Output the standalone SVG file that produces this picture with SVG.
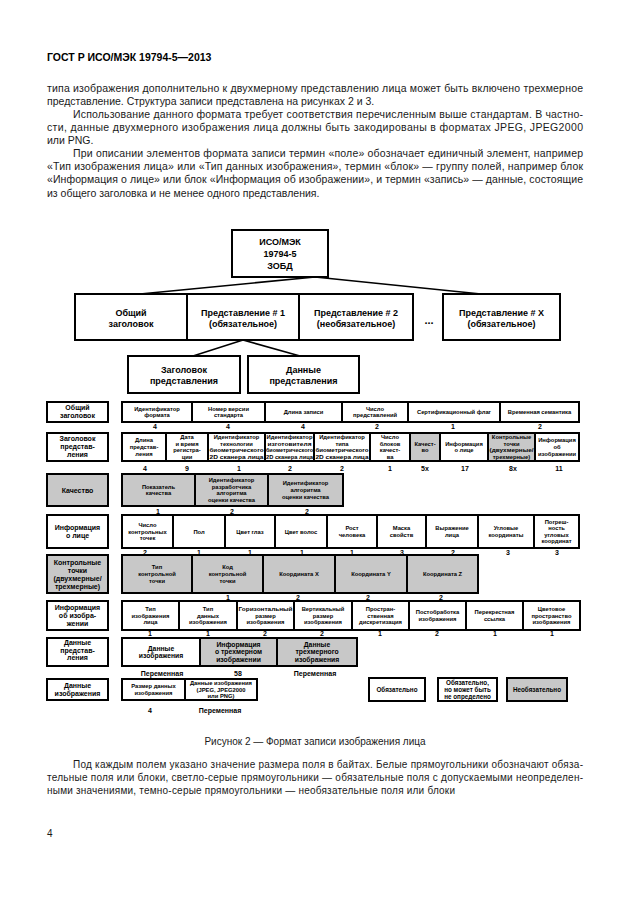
<svg xmlns="http://www.w3.org/2000/svg" width="630" height="913" viewBox="0 0 630 913">
<style>
.bg{fill:#fff}
.bx{fill:#fff;stroke:#000;stroke-width:2}
.gr{fill:#c8c8c8;stroke:#000;stroke-width:2}
.ln{stroke:#000;stroke-width:1.6;fill:none}
text{font-family:"Liberation Sans",Arial,sans-serif;fill:#000}
.body{font-size:10.5px;fill:#1a1a1a}
.hd{font-size:10.5px;font-weight:bold}
.note{font-size:10px;fill:#1a1a1a}
.tt{font-size:9px;font-weight:bold;text-anchor:middle}
.lb{font-size:7px;font-weight:bold;text-anchor:middle}
.f{font-size:5.8px;font-weight:bold;text-anchor:middle}
.f7{font-size:6.8px;font-weight:bold;text-anchor:middle}
.lg{font-size:6.3px;font-weight:bold;text-anchor:middle}
.n{font-size:7px;font-weight:bold;text-anchor:middle}
.dots{font-size:11px;font-weight:bold;text-anchor:middle}
</style>
<rect class="bg" x="0" y="0" width="630" height="913"/>

<text class="hd" x="47" y="61">ГОСТ Р ИСО/МЭК 19794-5—2013</text>

<g id="intro">
<text class="body" x="47" y="91.5" textLength="536" lengthAdjust="spacing">типа изображения дополнительно к двухмерному представлению лица может быть включено трехмерное</text>
<text class="body" x="47" y="104.5">представление. Структура записи представлена на рисунках 2 и 3.</text>
<text class="body" x="73" y="117.5" textLength="510" lengthAdjust="spacing">Использование данного формата требует соответствия перечисленным выше стандартам. В частно-</text>
<text class="body" x="47" y="130.5" textLength="536" lengthAdjust="spacing">сти, данные двухмерного изображения лица должны быть закодированы в форматах JPEG, JPEG2000</text>
<text class="body" x="47" y="143.5">или PNG.</text>
<text class="body" x="73" y="157" textLength="510" lengthAdjust="spacing">При описании элементов формата записи термин «поле» обозначает единичный элемент, например</text>
<text class="body" x="47" y="170" textLength="536" lengthAdjust="spacing">«Тип изображения лица» или «Тип данных изображения», термин «блок» — группу полей, например блок</text>
<text class="body" x="47" y="183" textLength="536" lengthAdjust="spacing">«Информация о лице» или блок «Информация об изображении», и термин «запись» — данные, состоящие</text>
<text class="body" x="47" y="196.5">из общего заголовка и не менее одного представления.</text>
</g>

<g id="connectors">
<line class="ln" x1="140" y1="294" x2="315" y2="277"/>
<line class="ln" x1="315" y1="277" x2="481" y2="294"/>
<line class="ln" x1="243" y1="340" x2="193" y2="356"/>
<line class="ln" x1="243" y1="340" x2="300" y2="356"/>
</g>

<g id="root">
<rect class="bx" x="232" y="230" width="96" height="47"/>
<text class="tt"><tspan x="280" y="244.5">ИСО/МЭК</tspan><tspan x="280" y="256.5">19794-5</tspan><tspan x="280" y="268.5">ЗОБД</tspan></text>
</g>
<g id="general-header">
<rect class="bx" x="75" y="294" width="112" height="46"/>
<text class="tt"><tspan x="131" y="315.5">Общий</tspan><tspan x="131" y="327">заголовок</tspan></text>
</g>
<g id="repr1">
<rect class="bx" x="187" y="294" width="112" height="46"/>
<text class="tt"><tspan x="243" y="315.5">Представление # 1</tspan><tspan x="243" y="327">(обязательное)</tspan></text>
</g>
<g id="repr2">
<rect class="bx" x="299" y="294" width="114" height="46"/>
<text class="tt"><tspan x="356" y="315.5">Представление # 2</tspan><tspan x="356" y="327">(необязательное)</tspan></text>
</g>
<text class="dots" x="429" y="324">...</text>
<g id="reprX">
<rect class="bx" x="443" y="294" width="117" height="46"/>
<text class="tt"><tspan x="501.5" y="315.5">Представление # X</tspan><tspan x="501.5" y="327">(обязательное)</tspan></text>
</g>
<g id="repr-header">
<rect class="bx" x="128" y="356" width="112" height="37"/>
<text class="tt"><tspan x="184" y="372.5">Заголовок</tspan><tspan x="184" y="383.5">представления</tspan></text>
</g>
<g id="repr-data">
<rect class="bx" x="248" y="356" width="111" height="37"/>
<text class="tt"><tspan x="303.5" y="372.5">Данные</tspan><tspan x="303.5" y="383.5">представления</tspan></text>
</g>

<!-- Row 1: general header -->
<g id="row-general-header">
<rect class="bx" x="47" y="402" width="61" height="20"/>
<text class="lb"><tspan x="77.5" y="410.45">Общий</tspan><tspan x="77.5" y="418.45">заголовок</tspan></text>
<rect class="bx" x="122" y="402" width="70" height="20"/>
<text class="f"><tspan x="157" y="410.7">Идентификатор</tspan><tspan x="157" y="417.3">формата</tspan></text>
<rect class="bx" x="192" y="402" width="73" height="20"/>
<text class="f"><tspan x="228.5" y="410.7">Номер версии</tspan><tspan x="228.5" y="417.3">стандарта</tspan></text>
<rect class="bx" x="265" y="402" width="77" height="20"/>
<text class="f" x="303.5" y="414">Длина записи</text>
<rect class="bx" x="342" y="402" width="66" height="20"/>
<text class="f"><tspan x="375" y="410.7">Число</tspan><tspan x="375" y="417.3">представлений</tspan></text>
<rect class="bx" x="408" y="402" width="92" height="20"/>
<text class="f" x="454" y="414">Сертификационный флаг</text>
<rect class="bx" x="500" y="402" width="79" height="20"/>
<text class="f" x="539.5" y="414">Временная семантика</text>
<text class="n" x="155" y="428.5">4</text><text class="n" x="228" y="428.5">4</text><text class="n" x="303" y="428.5">4</text>
<text class="n" x="377" y="428.5">2</text><text class="n" x="453" y="428.5">1</text><text class="n" x="540" y="428.5">2</text>
</g>

<!-- Row 2: representation header -->
<g id="row-repr-header">
<rect class="bx" x="47" y="433" width="61" height="28"/>
<text class="lb"><tspan x="77.5" y="441.45">Заголовок</tspan><tspan x="77.5" y="449.45">представ-</tspan><tspan x="77.5" y="457.45">ления</tspan></text>
<rect class="bx" x="122" y="433" width="44" height="28"/>
<text class="f"><tspan x="144" y="442.4">Длина</tspan><tspan x="144" y="449">представ-</tspan><tspan x="144" y="455.6">ления</tspan></text>
<rect class="bx" x="166" y="433" width="42" height="28"/>
<text class="f"><tspan x="187" y="439.1">Дата</tspan><tspan x="187" y="445.7">и время</tspan><tspan x="187" y="452.3">регистра-</tspan><tspan x="187" y="458.9">ции</tspan></text>
<rect class="bx" x="208" y="433" width="57" height="28"/>
<text class="f"><tspan x="236.5" y="439.1">Идентификатор</tspan><tspan x="236.5" y="445.7">технологии</tspan><tspan x="236.5" y="452.3" textLength="54" lengthAdjust="spacingAndGlyphs">биометрического</tspan><tspan x="236.5" y="458.9" textLength="54" lengthAdjust="spacingAndGlyphs">2D сканера лица</tspan></text>
<rect class="bx" x="265" y="433" width="49" height="28"/>
<text class="f"><tspan x="289.5" y="439.1" textLength="46" lengthAdjust="spacingAndGlyphs">Идентификатор</tspan><tspan x="289.5" y="445.7" textLength="44" lengthAdjust="spacingAndGlyphs">изготовителя</tspan><tspan x="289.5" y="452.3" textLength="47" lengthAdjust="spacingAndGlyphs">биометрического</tspan><tspan x="289.5" y="458.9" textLength="47" lengthAdjust="spacingAndGlyphs">2D сканера лица</tspan></text>
<rect class="bx" x="314" y="433" width="56" height="28"/>
<text class="f"><tspan x="342" y="439.1">Идентификатор</tspan><tspan x="342" y="445.7">типа</tspan><tspan x="342" y="452.3" textLength="53" lengthAdjust="spacingAndGlyphs">биометрического</tspan><tspan x="342" y="458.9" textLength="53" lengthAdjust="spacingAndGlyphs">2D сканера лица</tspan></text>
<rect class="bx" x="370" y="433" width="40" height="28"/>
<text class="f"><tspan x="390" y="439.1">Число</tspan><tspan x="390" y="445.7">блоков</tspan><tspan x="390" y="452.3">качест-</tspan><tspan x="390" y="458.9">ва</tspan></text>
<rect class="gr" x="410" y="433" width="30" height="28"/>
<text class="f"><tspan x="425" y="445.7">Качест-</tspan><tspan x="425" y="452.3">во</tspan></text>
<rect class="bx" x="440" y="433" width="48" height="28"/>
<text class="f"><tspan x="464" y="445.7">Информация</tspan><tspan x="464" y="452.3">о лице</tspan></text>
<rect class="gr" x="488" y="433" width="47" height="28"/>
<text class="f"><tspan x="511.5" y="439.1">Контрольные</tspan><tspan x="511.5" y="445.7">точки</tspan><tspan x="511.5" y="452.3" textLength="44" lengthAdjust="spacingAndGlyphs">(двухмерные/</tspan><tspan x="511.5" y="458.9">трехмерные)</tspan></text>
<rect class="bx" x="535" y="433" width="44" height="28"/>
<text class="f"><tspan x="557" y="442.4">Информация</tspan><tspan x="557" y="449">об</tspan><tspan x="557" y="455.6">изображении</tspan></text>
<text class="n" x="145" y="470.5">4</text><text class="n" x="187" y="470.5">9</text><text class="n" x="239" y="470.5">1</text>
<text class="n" x="290" y="470.5">2</text><text class="n" x="342" y="470.5">2</text><text class="n" x="390" y="470.5">1</text>
<text class="n" x="425" y="470.5">5x</text><text class="n" x="465" y="470.5">17</text><text class="n" x="513" y="470.5">8x</text>
<text class="n" x="559" y="470.5">11</text>
</g>

<!-- Row 3: quality -->
<g id="row-quality">
<rect class="gr" x="47" y="474" width="61" height="32"/>
<text class="lb" x="77.5" y="492.5">Качество</text>
<rect class="gr" x="122" y="474" width="73" height="32"/>
<text class="f"><tspan x="158.5" y="488.7">Показатель</tspan><tspan x="158.5" y="495.3">качества</tspan></text>
<rect class="gr" x="195" y="474" width="73" height="32"/>
<text class="f"><tspan x="231.5" y="482.1">Идентификатор</tspan><tspan x="231.5" y="488.7">разработчика</tspan><tspan x="231.5" y="495.3">алгоритма</tspan><tspan x="231.5" y="501.9">оценки качества</tspan></text>
<rect class="gr" x="268" y="474" width="75" height="32"/>
<text class="f"><tspan x="305.5" y="485.4">Идентификатор</tspan><tspan x="305.5" y="492">алгоритма</tspan><tspan x="305.5" y="498.6">оценки качества</tspan></text>
<text class="n" x="158" y="513.5">1</text><text class="n" x="232" y="513.5">2</text><text class="n" x="307" y="513.5">2</text>
</g>

<!-- Row 4: facial information -->
<g id="row-face-info">
<rect class="bx" x="47" y="515" width="61" height="33"/>
<text class="lb"><tspan x="77.5" y="530">Информация</tspan><tspan x="77.5" y="538">о лице</tspan></text>
<rect class="bx" x="122" y="515" width="51" height="33"/>
<text class="f"><tspan x="147.5" y="526.9">Число</tspan><tspan x="147.5" y="533.5">контрольных</tspan><tspan x="147.5" y="540.1">точек</tspan></text>
<rect class="bx" x="173" y="515" width="52" height="33"/>
<text class="f" x="199" y="533.5">Пол</text>
<rect class="bx" x="225" y="515" width="50" height="33"/>
<text class="f" x="250" y="533.5">Цвет глаз</text>
<rect class="bx" x="275" y="515" width="52" height="33"/>
<text class="f" x="301" y="533.5">Цвет волос</text>
<rect class="bx" x="327" y="515" width="50" height="33"/>
<text class="f"><tspan x="352" y="530.2">Рост</tspan><tspan x="352" y="536.8">человека</tspan></text>
<rect class="bx" x="377" y="515" width="49" height="33"/>
<text class="f"><tspan x="401.5" y="530.2">Маска</tspan><tspan x="401.5" y="536.8">свойств</tspan></text>
<rect class="bx" x="426" y="515" width="52" height="33"/>
<text class="f"><tspan x="452" y="530.2">Выражение</tspan><tspan x="452" y="536.8">лица</tspan></text>
<rect class="bx" x="478" y="515" width="56" height="33"/>
<text class="f"><tspan x="506" y="530.2">Угловые</tspan><tspan x="506" y="536.8">координаты</tspan></text>
<rect class="bx" x="534" y="515" width="45" height="33"/>
<text class="f"><tspan x="556.5" y="523.6">Погреш-</tspan><tspan x="556.5" y="530.2">ность</tspan><tspan x="556.5" y="536.8">угловых</tspan><tspan x="556.5" y="543.4">координат</tspan></text>
<text class="n" x="145" y="554.5">2</text><text class="n" x="199" y="554.5">1</text><text class="n" x="250" y="554.5">1</text>
<text class="n" x="302" y="554.5">1</text><text class="n" x="352" y="554.5">1</text><text class="n" x="402" y="554.5">3</text>
<text class="n" x="453" y="554.5">2</text><text class="n" x="508" y="554.5">3</text><text class="n" x="557" y="554.5">3</text>
</g>

<!-- Row 5: landmark points -->
<g id="row-landmarks">
<rect class="gr" x="47" y="555" width="61" height="38"/>
<text class="lb"><tspan x="77.5" y="564.5">Контрольные</tspan><tspan x="77.5" y="572.5">точки</tspan><tspan x="77.5" y="580.5">(двухмерные/</tspan><tspan x="77.5" y="588.5">трехмерные)</tspan></text>
<rect class="gr" x="122" y="555" width="70" height="38"/>
<text class="f"><tspan x="157" y="569.4">Тип</tspan><tspan x="157" y="576">контрольной</tspan><tspan x="157" y="582.6">точки</tspan></text>
<rect class="gr" x="192" y="555" width="71" height="38"/>
<text class="f"><tspan x="227.5" y="569.4">Код</tspan><tspan x="227.5" y="576">контрольной</tspan><tspan x="227.5" y="582.6">точки</tspan></text>
<rect class="gr" x="263" y="555" width="72" height="38"/>
<text class="f" x="299" y="576">Координата X</text>
<rect class="gr" x="335" y="555" width="72" height="38"/>
<text class="f" x="371" y="576">Координата Y</text>
<rect class="gr" x="407" y="555" width="71" height="38"/>
<text class="f" x="442.5" y="576">Координата Z</text>
<text class="n" x="228" y="599.5">1</text><text class="n" x="298" y="599.5">2</text>
<text class="n" x="368" y="599.5">2</text><text class="n" x="441" y="599.5">2</text>
</g>

<!-- Row 6: image information -->
<g id="row-image-info">
<rect class="bx" x="47" y="601" width="61" height="29"/>
<text class="lb"><tspan x="77.5" y="609.9">Информация</tspan><tspan x="77.5" y="617.9">об изобра-</tspan><tspan x="77.5" y="625.9">жении</tspan></text>
<rect class="bx" x="122" y="601" width="57" height="29"/>
<text class="f"><tspan x="150.5" y="610.9">Тип</tspan><tspan x="150.5" y="617.5">изображения</tspan><tspan x="150.5" y="624.1">лица</tspan></text>
<rect class="bx" x="179" y="601" width="58" height="29"/>
<text class="f"><tspan x="208" y="610.9">Тип</tspan><tspan x="208" y="617.5">данных</tspan><tspan x="208" y="624.1">изображения</tspan></text>
<rect class="bx" x="237" y="601" width="57" height="29"/>
<text class="f"><tspan x="265.5" y="610.9" textLength="54" lengthAdjust="spacingAndGlyphs">Горизонтальный</tspan><tspan x="265.5" y="617.5">размер</tspan><tspan x="265.5" y="624.1">изображения</tspan></text>
<rect class="bx" x="294" y="601" width="58" height="29"/>
<text class="f"><tspan x="323" y="610.9">Вертикальный</tspan><tspan x="323" y="617.5">размер</tspan><tspan x="323" y="624.1">изображения</tspan></text>
<rect class="bx" x="352" y="601" width="57" height="29"/>
<text class="f"><tspan x="380.5" y="610.9">Простран-</tspan><tspan x="380.5" y="617.5">ственная</tspan><tspan x="380.5" y="624.1">дискретизация</tspan></text>
<rect class="bx" x="409" y="601" width="57" height="29"/>
<text class="f"><tspan x="437.5" y="614.2">Постобработка</tspan><tspan x="437.5" y="620.8">изображения</tspan></text>
<rect class="bx" x="466" y="601" width="57" height="29"/>
<text class="f"><tspan x="494.5" y="614.2">Перекрестная</tspan><tspan x="494.5" y="620.8">ссылка</tspan></text>
<rect class="bx" x="523" y="601" width="57" height="29"/>
<text class="f"><tspan x="551.5" y="610.9">Цветовое</tspan><tspan x="551.5" y="617.5">пространство</tspan><tspan x="551.5" y="624.1">изображения</tspan></text>
<text class="n" x="150" y="636">1</text><text class="n" x="208" y="636">1</text><text class="n" x="265" y="636">2</text>
<text class="n" x="322" y="636">2</text><text class="n" x="380" y="636">1</text><text class="n" x="437" y="636">2</text>
<text class="n" x="495" y="636">1</text><text class="n" x="552" y="636">1</text>
</g>

<!-- Row 7: representation data -->
<g id="row-repr-data">
<rect class="bx" x="47" y="638" width="61" height="28"/>
<text class="lb"><tspan x="77.5" y="645.45">Данные</tspan><tspan x="77.5" y="652.95">представ-</tspan><tspan x="77.5" y="660.45">ления</tspan></text>
<rect class="bx" x="122" y="638" width="78" height="28"/>
<text class="f7"><tspan x="161" y="650.5">Данные</tspan><tspan x="161" y="658.3">изображения</tspan></text>
<rect class="gr" x="200" y="638" width="77" height="28"/>
<text class="f7"><tspan x="238.5" y="646.6">Информация</tspan><tspan x="238.5" y="654.4">о трехмерном</tspan><tspan x="238.5" y="662.2">изображении</tspan></text>
<rect class="gr" x="277" y="638" width="80" height="28"/>
<text class="f7"><tspan x="317" y="646.6">Данные</tspan><tspan x="317" y="654.4">трехмерного</tspan><tspan x="317" y="662.2">изображения</tspan></text>
<text class="lb" x="162" y="675.5">Переменная</text>
<text class="n" x="238" y="675.5">58</text>
<text class="lb" x="315" y="675.5">Переменная</text>
</g>

<!-- Row 8: image data -->
<g id="row-image-data">
<rect class="bx" x="47" y="679" width="61" height="21"/>
<text class="lb"><tspan x="77.5" y="688">Данные</tspan><tspan x="77.5" y="696">изображения</tspan></text>
<rect class="bx" x="122" y="679" width="63" height="21"/>
<text class="f"><tspan x="153.5" y="688.2">Размер данных</tspan><tspan x="153.5" y="694.8">изображения</tspan></text>
<rect class="bx" x="185" y="679" width="72" height="21"/>
<text class="f"><tspan x="221" y="685.3">Данные изображения</tspan><tspan x="221" y="691.5">(JPEG, JPEG2000</tspan><tspan x="221" y="697.7">или PNG)</tspan></text>
<text class="n" x="150" y="712.5">4</text>
<text class="lb" x="220" y="712.5">Переменная</text>
</g>

<!-- Legend -->
<g id="legend-mandatory">
<rect class="bx" x="369" y="678" width="56" height="23"/>
<text class="lg" x="397" y="691.7">Обязательно</text>
</g>
<g id="legend-undefined">
<rect class="bx" x="438" y="678" width="59" height="23"/>
<text class="lg"><tspan x="467.5" y="685.3">Обязательно,</tspan><tspan x="467.5" y="691.9">но может быть</tspan><tspan x="467.5" y="698.5">не определено</tspan></text>
</g>
<g id="legend-optional">
<rect class="gr" x="507" y="678" width="60" height="23"/>
<text class="lg" x="537" y="691.7">Необязательно</text>
</g>

<text class="note" x="315" y="744.5" text-anchor="middle">Рисунок 2 — Формат записи изображения лица</text>

<g id="note">
<text class="note" x="73" y="767.5" textLength="510" lengthAdjust="spacing">Под каждым полем указано значение размера поля в байтах. Белые  прямоугольники  обозначают  обяза-</text>
<text class="note" x="47" y="780.5" textLength="536" lengthAdjust="spacing">тельные  поля  или  блоки,  светло-серые  прямоугольники — обязательные поля с допускаемыми  неопределен-</text>
<text class="note" x="47" y="793.5" textLength="408" lengthAdjust="spacing">ными  значениями,  темно-серые  прямоугольники — необязательные поля или блоки</text>
</g>

<text class="note" x="47" y="837">4</text>
</svg>
